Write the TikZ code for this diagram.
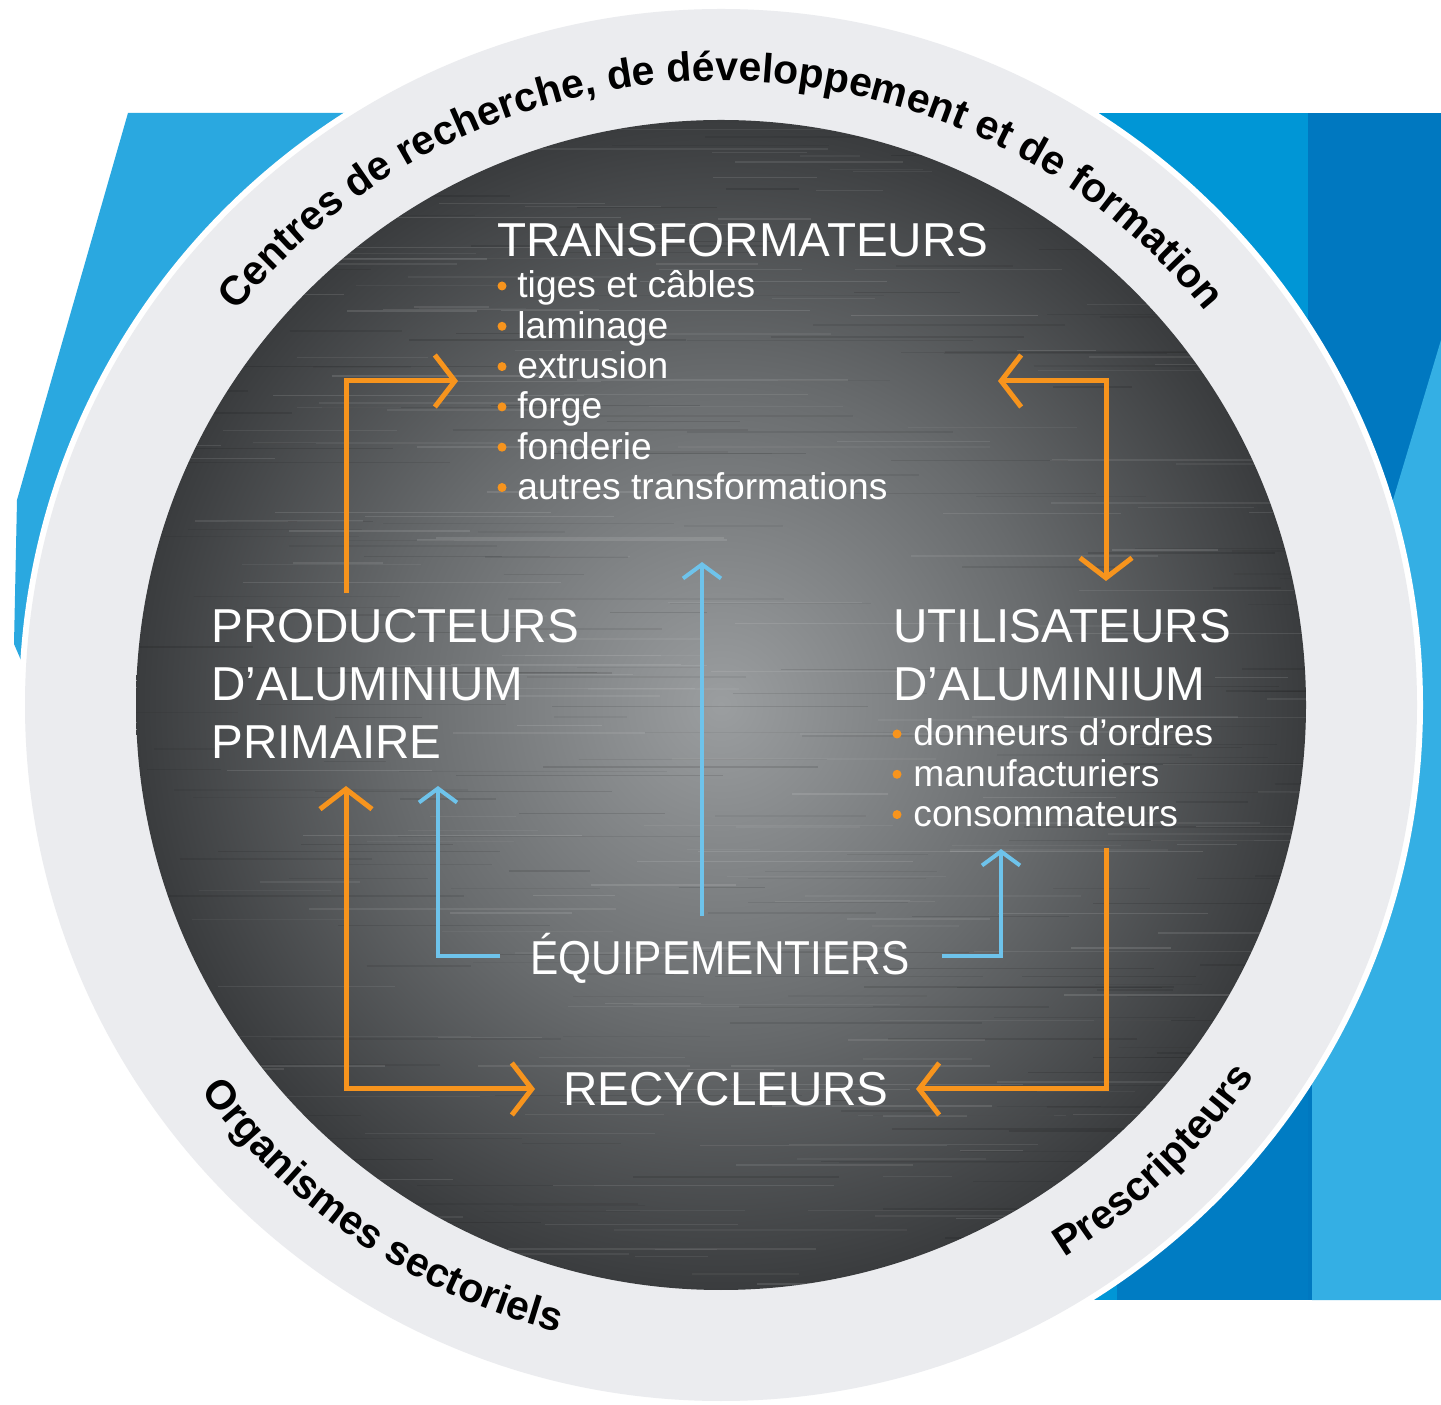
\documentclass[tikz,border=0pt]{standalone}
\usepackage{fontspec}
\usepackage{graphicx}
\setmainfont{Liberation Sans}
\usetikzlibrary{arrows.meta,decorations.text}

\definecolor{ringgrey}{RGB}{235,236,239}
\definecolor{metallight}{RGB}{155,158,160}
\definecolor{metalmid}{RGB}{104,107,109}
\definecolor{metaldark}{RGB}{58,60,62}
\definecolor{flowOrange}{RGB}{247,148,29}
\definecolor{feedBlue}{RGB}{110,195,235}
\definecolor{skyBlue}{RGB}{42,168,224}
\definecolor{midBlue}{RGB}{0,150,214}
\definecolor{deepBlue}{RGB}{0,120,192}
\definecolor{paleBlue}{RGB}{52,175,228}

\pgfdeclareradialshading{metal}{\pgfpoint{0bp}{0bp}}{color(0bp)=(metallight); color(14bp)=(metalmid); color(25bp)=(metaldark); color(50bp)=(metaldark)}

\tikzset{
  head/.style={text=white, inner sep=0pt, anchor=base west, font=\fontsize{23.8}{29}\selectfont},
  item/.style={text=white, inner sep=0pt, anchor=base west, font=\fontsize{18.6}{20.2}\selectfont},
  flow/.style={draw=flowOrange, line width=2.5pt, >={Straight Barb[length=10pt,width=26pt]}},
  feed/.style={draw=feedBlue, line width=2pt, >={Straight Barb[length=7pt,width=19pt]}},
  ringtext/.style={decorate, decoration={text along path, text align=center,
      text={|\bfseries\fontsize{20.5}{24}\selectfont|#1}}}
}

\begin{document}
\begin{tikzpicture}[x=0.5pt, y=0.5pt]
  % Define disc dimensions
  \def\cx{721}
  \def\cy{699}
  \def\rring{696}
  \def\rdisc{585}
  \useasboundingbox (0,0) rectangle (1441,1404);

  % Background panels
  \fill[white] (0,0) rectangle (1441,1404);
  \fill[skyBlue] (128,1291) -- (420,1291) -- (420,700) -- (40,700) -- (14,760) -- (17,904) -- cycle;
  \fill[midBlue] (1085,104) rectangle (1308,1291);
  \fill[deepBlue!85!midBlue] (1117,104) rectangle (1308,600);
  \fill[deepBlue] (1308,104) rectangle (1441,1291);
  \fill[paleBlue] (1441,1064) -- (1312,634) -- (1312,104) -- (1441,104) -- cycle;

  % Grey ring and metal disc
  \fill[white] (\cx,\cy) circle (\rring+6);
  \fill[ringgrey] (\cx,\cy) circle (\rring);
  \shade[shading=metal] (\cx,\cy) circle (\rdisc);

  % Brushed streaks on the disc
  \begin{scope}
    \clip (\cx,\cy) circle (\rdisc);
    \pgfmathsetseed{7}
    \foreach \i in {1,...,220} {
      \pgfmathsetmacro{\sx}{130+rnd*1150}
      \pgfmathsetmacro{\sy}{110+rnd*1180}
      \pgfmathsetmacro{\sl}{60+rnd*260}
      \pgfmathsetmacro{\sa}{0.04+rnd*0.08}
      \draw[white, opacity=\sa, line width=0.7pt] (\sx,\sy) -- ++(\sl,0);
      \draw[black, opacity=\sa, line width=0.7pt] (\sy,\sx) -- ++(\sl,0);
    }
  \end{scope}

  % Ring labels
  \path[ringtext={Centres de recherche, de développement et de formation}]
    (\cx,\cy) ++(165:624) arc[start angle=165, end angle=15, radius=624];
  \path[ringtext={Organismes sectoriels}]
    (\cx,\cy) ++(200:648) arc[start angle=200, end angle=272, radius=648];
  \path[ringtext={Prescripteurs}]
    (\cx,\cy) ++(290:650) arc[start angle=290, end angle=337, radius=650];

  % Transformateurs with bullet list
  \node[head] (transf) at (497,1147) {TRANSFORMATEURS};
  \foreach \t [count=\i] in {tiges et câbles, laminage, extrusion, forge, fonderie, autres transformations} {
    \node[item] (transf\i) at (517,{1106-40.3*(\i-1)}) {\t};
    \fill[flowOrange] (502,{1118-40.3*(\i-1)}) circle (4.5);
  }

  % Producteurs and utilisateurs
  \node[head] (prod) at (211,761) {\begin{tabular}[t]{@{}l@{}}PRODUCTEURS\\D’ALUMINIUM\\PRIMAIRE\end{tabular}};
  \node[head] (util) at (893,761) {\begin{tabular}[t]{@{}l@{}}UTILISATEURS\\D’ALUMINIUM\end{tabular}};
  \foreach \t [count=\i] in {donneurs d’ordres, manufacturiers, consommateurs} {
    \node[item] (util\i) at (913,{658-40.3*(\i-1)}) {\t};
    \fill[flowOrange] (897,{670-40.3*(\i-1)}) circle (4.5);
  }

  % Equipementiers and recycleurs
  \node[head] (equip) at (530,429) {\scalebox{0.89}[1]{ÉQUIPEMENTIERS}};
  \node[head] (recyc) at (563,298) {RECYCLEURS};

  % Arrow ends
  \coordinate (p-up) at (346,811);
  \coordinate (t-in) at (458,1023);
  \coordinate (t-out) at (998,1023);
  \coordinate (u-in) at (1106,823);
  \coordinate (u-out) at (1106,556);
  \coordinate (r-right) at (916,315);
  \coordinate (p-in) at (346,618);
  \coordinate (r-left) at (535,315);
  \coordinate (e-left) at (500,448);
  \coordinate (p-feed) at (438,618);
  \coordinate (e-up) at (702,488);
  \coordinate (t-feed) at (702,842);
  \coordinate (e-right) at (942,448);
  \coordinate (u-feed) at (1001,555);

  % Orange flows between the chain links
  \draw[flow,->] (p-up) |- (t-in);
  \draw[flow,<->] (t-out) -| (u-in);
  \draw[flow,->] (u-out) |- (r-right);
  \draw[flow,<->] (p-in) |- (r-left);

  % Blue feeds from the equipementiers
  \draw[feed,->] (e-left) -| (p-feed);
  \draw[feed,->] (e-up) -- (t-feed);
  \draw[feed,->] (e-right) -| (u-feed);
\end{tikzpicture}
\end{document}
